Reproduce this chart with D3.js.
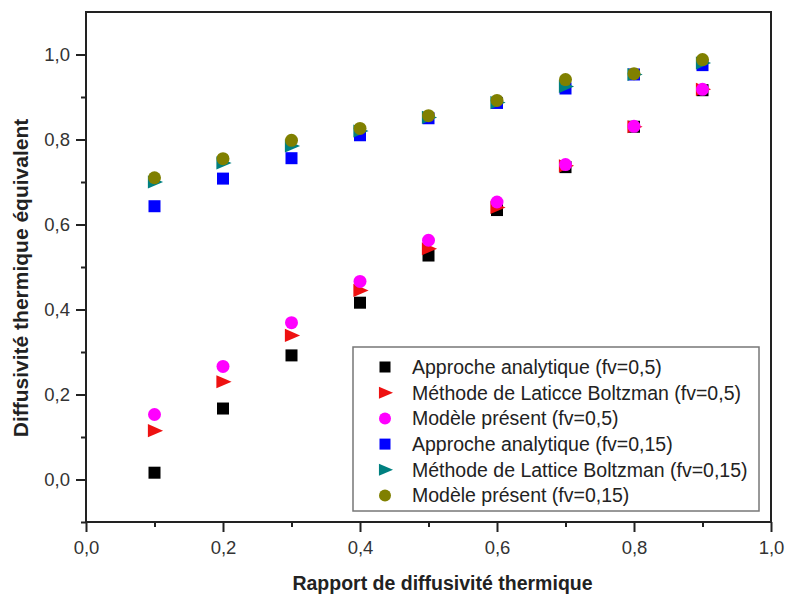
<!DOCTYPE html>
<html>
<head>
<meta charset="utf-8">
<script src="https://cdn.jsdelivr.net/npm/d3@7"></script>
<style>
    body { margin: 0; background: #fff; }
    svg text { font-family: "Liberation Sans", Arial, sans-serif; }
</style>
</head>
<body>
<div id="chart"></div>
<script>
// data
const ratios = [0.1, 0.2, 0.3, 0.4, 0.5, 0.6, 0.7, 0.8, 0.9];
const analytic05 = [0.016, 0.167, 0.292, 0.416, 0.527, 0.634, 0.735, 0.830, 0.916];
const lbm05      = [0.115, 0.230, 0.339, 0.445, 0.543, 0.640, 0.738, 0.830, 0.918];
const present05  = [0.153, 0.266, 0.369, 0.466, 0.563, 0.653, 0.741, 0.831, 0.918];
const analytic15 = [0.643, 0.708, 0.756, 0.810, 0.850, 0.886, 0.920, 0.953, 0.975];
const lbm15      = [0.700, 0.745, 0.785, 0.820, 0.852, 0.887, 0.925, 0.953, 0.980];
const present15  = [0.710, 0.755, 0.798, 0.826, 0.856, 0.892, 0.941, 0.955, 0.988];
const xTicks = [0, 0.2, 0.4, 0.6, 0.8, 1.0];
const yTicks = [0, 0.2, 0.4, 0.6, 0.8, 1.0];

const series = [
    {name: "Approche analytique (fv=0,5)", vals: analytic05, shape: "square", color: "#000000"},
    {name: "Méthode de Laticce Boltzman (fv=0,5)", vals: lbm05, shape: "triangle", color: "#ee1111"},
    {name: "Modèle présent (fv=0,5)", vals: present05, shape: "circle", color: "#ff00ff"},
    {name: "Approche analytique (fv=0,15)", vals: analytic15, shape: "square", color: "#0000ff"},
    {name: "Méthode de Lattice Boltzman (fv=0,15)", vals: lbm15, shape: "triangle", color: "#008080"},
    {name: "Modèle présent (fv=0,15)", vals: present15, shape: "circle", color: "#808000"}
];

const width = 788, height = 595;
const margin = {top: 12, right: 17, bottom: 73, left: 86};

const svg = d3.select("#chart").append("svg")
    .attr("width", width).attr("height", height);

const x = d3.scaleLinear().domain([0, 1]).range([margin.left, width - margin.right]);
const y = d3.scaleLinear().domain([-0.1, 1.1]).range([height - margin.bottom, margin.top]);

const fmt = d => d3.format(".1f")(d).replace(".", ",");

// frame
svg.append("rect")
    .attr("x", x(0)).attr("y", y(1.1))
    .attr("width", x(1) - x(0)).attr("height", y(-0.1) - y(1.1))
    .attr("fill", "none").attr("stroke", "#222").attr("stroke-width", 2);

// minor ticks
svg.append("g")
    .attr("transform", `translate(0,${y(-0.1)})`)
    .call(d3.axisBottom(x).tickValues(d3.range(0.1, 1, 0.2)).tickSize(5).tickFormat(""))
    .call(g => g.select(".domain").remove())
    .call(g => g.selectAll("line").attr("stroke", "#222").attr("stroke-width", 2));
svg.append("g")
    .attr("transform", `translate(${x(0)},0)`)
    .call(d3.axisLeft(y).tickValues([-0.1, 0.1, 0.3, 0.5, 0.7, 0.9]).tickSize(5).tickFormat(""))
    .call(g => g.select(".domain").remove())
    .call(g => g.selectAll("line").attr("stroke", "#222").attr("stroke-width", 2));

// major ticks
svg.append("g")
    .attr("transform", `translate(0,${y(-0.1)})`)
    .call(d3.axisBottom(x).tickValues(xTicks).tickSize(10).tickPadding(9).tickFormat(fmt))
    .call(g => g.select(".domain").remove())
    .call(g => g.selectAll("line").attr("stroke", "#222").attr("stroke-width", 2))
    .call(g => g.selectAll("text").attr("font-size", 18.5).attr("fill", "#333"));
svg.append("g")
    .attr("transform", `translate(${x(0)},0)`)
    .call(d3.axisLeft(y).tickValues(yTicks).tickSize(10).tickPadding(6).tickFormat(fmt))
    .call(g => g.select(".domain").remove())
    .call(g => g.selectAll("line").attr("stroke", "#222").attr("stroke-width", 2))
    .call(g => g.selectAll("text").attr("font-size", 18.5).attr("fill", "#333"));

// axis titles
svg.append("text")
    .attr("x", (x(0) + x(1)) / 2 + 14).attr("y", 590)
    .attr("text-anchor", "middle")
    .attr("font-size", 19.5).attr("font-weight", "bold").attr("fill", "#222")
    .text("Rapport de diffusivité thermique");
svg.append("text")
    .attr("transform", "translate(28,278) rotate(-90)")
    .attr("text-anchor", "middle")
    .attr("font-size", 21).attr("font-weight", "bold").attr("fill", "#222")
    .text("Diffusivité thermique équivalent");

// marker drawing
function marker(g, shape, color, size) {
    if (shape === "square") {
        g.append("rect").attr("x", -size / 2).attr("y", -size / 2)
            .attr("width", size).attr("height", size).attr("fill", color);
    } else if (shape === "circle") {
        g.append("circle").attr("r", size / 2 + 0.5).attr("fill", color);
    } else {
        const h = size * 0.55;
        g.append("path").attr("d", `M${-h},${-h}L${h + 2},0L${-h},${h}Z`).attr("fill", color);
    }
}

series.forEach(s => {
    const pts = svg.append("g").selectAll("g")
        .data(s.vals.map((v, i) => ({x: ratios[i], y: v})))
        .join("g")
        .attr("transform", d => `translate(${x(d.x)},${y(d.y)})`);
    pts.each(function() { marker(d3.select(this), s.shape, s.color, 12); });
});

// legend
const lx = 353, ly = 347, lw = 406, lh = 164;
const legend = svg.append("g");
legend.append("rect")
    .attr("x", lx).attr("y", ly).attr("width", lw).attr("height", lh)
    .attr("fill", "#fff").attr("stroke", "#777").attr("stroke-width", 1.5);
series.forEach((s, i) => {
    const ry = ly + 20 + i * 25.7;
    const g = legend.append("g").attr("transform", `translate(385,${ry})`);
    marker(g, s.shape, s.color, 11);
    legend.append("text")
        .attr("x", 412).attr("y", ry).attr("dy", "0.35em")
        .attr("font-size", 19.5).attr("fill", "#222")
        .text(s.name);
});
</script>
</body>
</html>
